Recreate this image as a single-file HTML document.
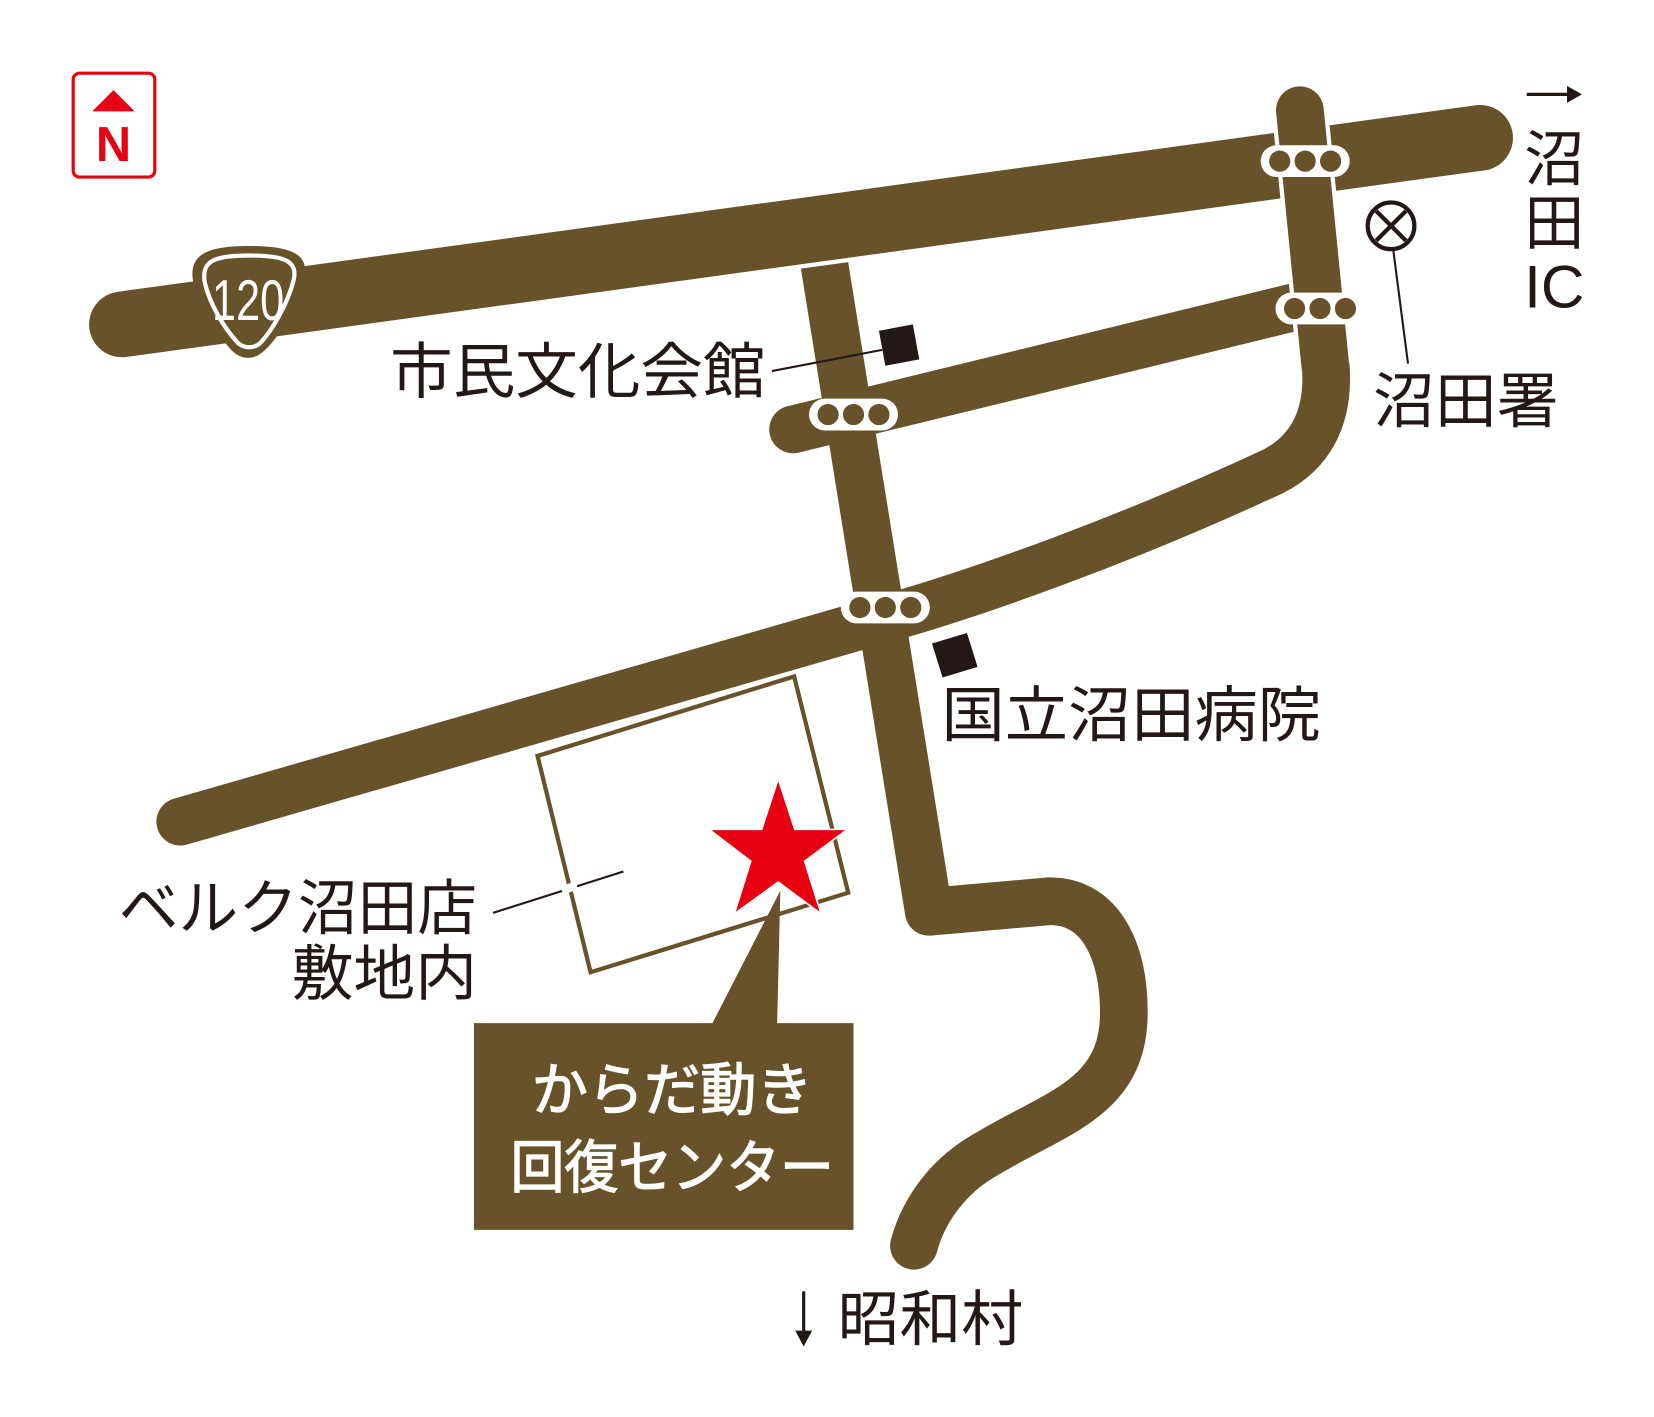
<!DOCTYPE html>
<html><head><meta charset="utf-8"><style>
html,body{margin:0;padding:0;background:#fff}
svg{display:block}
text{font-family:"Liberation Sans","Noto Sans CJK JP",sans-serif;fill:#231815}
</style></head><body>
<svg width="1654" height="1417" viewBox="0 0 1560 1336.5" xmlns="http://www.w3.org/2000/svg">
<g fill="none" stroke-linecap="round" stroke-linejoin="round">
<path d="M776 240 L876 860 L990 850 C1040 850 1060 900 1060 955 C1060 1040 990 1050 920 1095 C890 1115 870 1145 862 1175" stroke="#68522a" stroke-width="45" stroke-linecap="butt"/>
<path d="M862 1175 L862 1175" stroke="#68522a" stroke-width="45"/>
<path d="M748 405 L1240 285" stroke="#68522a" stroke-width="45"/>
<path d="M1250 340 C1256 400 1230 430 1200 445 C1060 510 920 560 830 585 L170 775" stroke="#68522a" stroke-width="45"/>
<path d="M115 306 L1396 130" stroke="#fff" stroke-width="70"/>
<path d="M115 306 L1396 130" stroke="#68522a" stroke-width="62"/>
<path d="M1226 104 L1250 345" stroke="#fff" stroke-width="53" stroke-linecap="butt"/>
<path d="M1226 104 L1250 345" stroke="#68522a" stroke-width="45"/>
</g>
<!-- route shield -->
<path d="M235 232 C275 232 292 240 287 262 C280 290 262 320 250 330 C240 340 228 340 218 330 C205 315 188 290 182 265 C178 240 195 232 235 232 Z" fill="#68522a"/>
<path d="M235 241 C268 241 281 246 277 264 C271 288 256 312 246 323 C240 329 230 329 224 323 C212 310 198 288 193 266 C190 246 202 241 235 241 Z" fill="none" stroke="#fff" stroke-width="4"/>
<text x="234" y="302" font-size="54" text-anchor="middle" style="fill:#fff" textLength="68" lengthAdjust="spacingAndGlyphs">120</text>
<!-- signals -->
<g>
<g transform="translate(1231,152)"><rect x="-42" y="-15" width="84" height="30" rx="15" fill="#fff"/><circle cx="-24" r="10" fill="#68522a"/><circle cx="0" r="10" fill="#68522a"/><circle cx="24" r="10" fill="#68522a"/></g>
<g transform="translate(1245,291)"><rect x="-42" y="-15" width="84" height="30" rx="15" fill="#fff"/><circle cx="-24" r="10" fill="#68522a"/><circle cx="0" r="10" fill="#68522a"/><circle cx="24" r="10" fill="#68522a"/></g>
<g transform="translate(805,391)"><rect x="-42" y="-15" width="84" height="30" rx="15" fill="#fff"/><circle cx="-24" r="10" fill="#68522a"/><circle cx="0" r="10" fill="#68522a"/><circle cx="24" r="10" fill="#68522a"/></g>
<g transform="translate(835,573)"><rect x="-42" y="-15" width="84" height="30" rx="15" fill="#fff"/><circle cx="-24" r="10" fill="#68522a"/><circle cx="0" r="10" fill="#68522a"/><circle cx="24" r="10" fill="#68522a"/></g>
</g>
<!-- N mark -->
<rect x="69" y="69" width="77" height="98" rx="6" fill="#fff" stroke="#e60012" stroke-width="3"/>
<path d="M107 85 L127 105 L87 105 Z" fill="#e60012"/>
<text x="107" y="152" font-size="46" font-weight="bold" text-anchor="middle" style="fill:#e60012">N</text>
<!-- buildings -->
<polygon points="829,312 861,306 867,339 835,345" fill="#231815"/>
<polygon points="879,607 912,597 922,629 889,639" fill="#231815"/>
<line x1="728" y1="350" x2="832" y2="330" stroke="#231815" stroke-width="2"/>
<!-- police -->
<circle cx="1312" cy="213" r="22" fill="#fff" stroke="#231815" stroke-width="4"/>
<path d="M1298 199 L1326 227 M1326 199 L1298 227" stroke="#231815" stroke-width="4"/>
<line x1="1314" y1="235" x2="1328" y2="343" stroke="#231815" stroke-width="2"/>
<!-- property -->
<polygon points="507,713 749,638 800,842 557,917" fill="none" stroke="#68522a" stroke-width="4"/>
<line x1="465" y1="861" x2="588" y2="822" stroke="#231815" stroke-width="2"/>
<line x1="530" y1="840" x2="544" y2="835" stroke="#fff" stroke-width="8"/>
<!-- callout -->
<path d="M447 965 L672 965 L736 840 L733 965 L805 965 L805 1160 L447 1160 Z" fill="#68522a"/>
<polygon points="734,737 749,783 797,783 758,812 773,860 734,831 694,860 709,812 671,783 719,783" fill="#e60012" stroke="#fff" stroke-width="3" paint-order="stroke"/>
<text x="634" y="1047" font-size="54" text-anchor="middle" style="fill:#fff;stroke:#fff;stroke-width:1.2" textLength="265" lengthAdjust="spacingAndGlyphs">からだ動き</text>
<text x="634" y="1120" font-size="54" text-anchor="middle" style="fill:#fff;stroke:#fff;stroke-width:1.2" textLength="305" lengthAdjust="spacingAndGlyphs">回復センター</text>
<!-- labels -->
<text x="368" y="370" font-size="57" textLength="354" lengthAdjust="spacingAndGlyphs">市民文化会館</text>
<text x="1295" y="398" font-size="57" textLength="175" lengthAdjust="spacingAndGlyphs">沼田署</text>
<text x="888" y="694" font-size="57" textLength="358" lengthAdjust="spacingAndGlyphs">国立沼田病院</text>
<text x="112" y="876" font-size="57" textLength="338" lengthAdjust="spacingAndGlyphs">ベルク沼田店</text>
<text x="275" y="938" font-size="57" textLength="175" lengthAdjust="spacingAndGlyphs">敷地内</text>
<line x1="758" y1="1218" x2="758" y2="1258" stroke="#231815" stroke-width="3"/>
<path d="M750 1255 L758 1270 L766 1255 Z" fill="#231815"/>
<text x="790" y="1264" font-size="57" textLength="175" lengthAdjust="spacingAndGlyphs">昭和村</text>
<line x1="1440" y1="89" x2="1480" y2="89" stroke="#231815" stroke-width="3"/>
<path d="M1478 81 L1492 89 L1478 97 Z" fill="#231815"/>
<text x="1466" y="170" font-size="57" text-anchor="middle">沼</text>
<text x="1466" y="230" font-size="57" text-anchor="middle">田</text>
<text x="1466" y="290" font-size="57" text-anchor="middle">IC</text>
</svg>
</body></html>
